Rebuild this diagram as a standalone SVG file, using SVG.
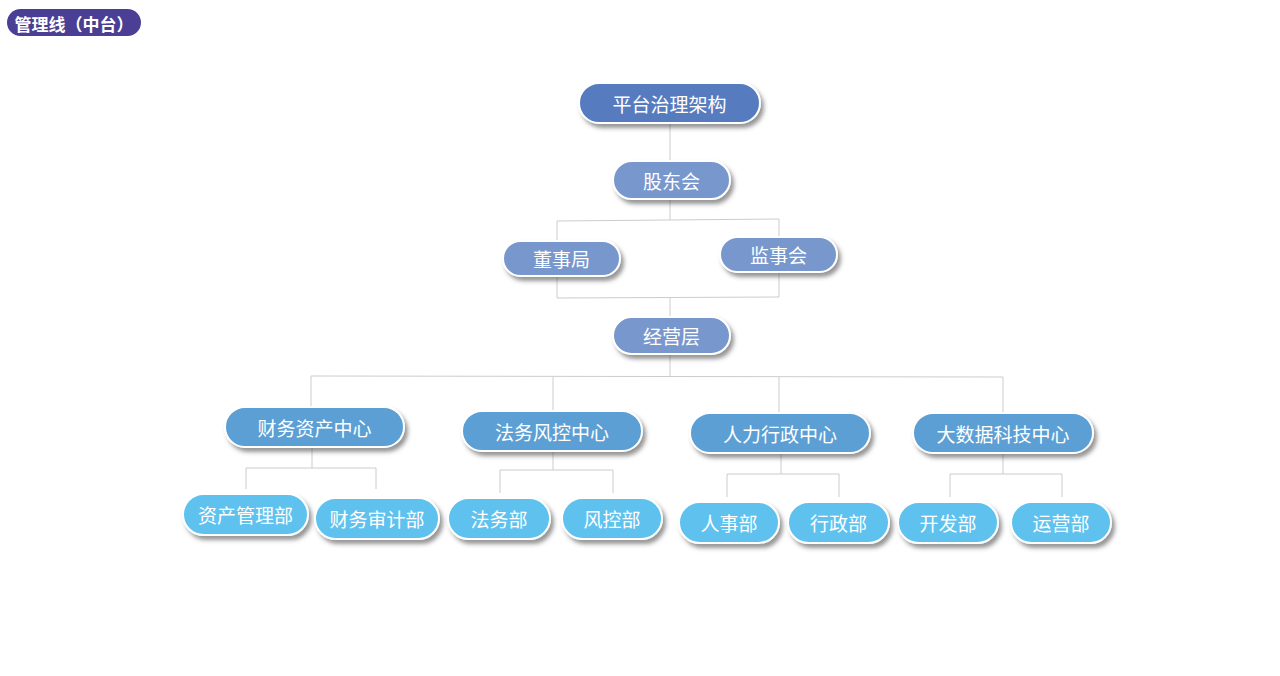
<svg xmlns="http://www.w3.org/2000/svg" width="1280" height="676" viewBox="0 0 1280 676">
<defs>
<filter id="sh" x="-20%" y="-30%" width="140%" height="170%">
<feDropShadow dx="3" dy="4" stdDeviation="2" flood-color="#404040" flood-opacity="0.55"/>
</filter>
<style>
.n rect{stroke:#fff;stroke-width:2;filter:url(#sh)}
.l1 rect{fill:#577cbf}
.l2 rect{fill:#7897cc}
.l3 rect{fill:#5b9fd5}
.l4 rect{fill:#5ec2ee}
.n text{fill:#fff;font-family:"Noto Sans CJK SC","Noto Sans",sans-serif;font-size:19px;text-anchor:middle;dominant-baseline:central}
.c{stroke:#cccccc;stroke-width:1;fill:none}
</style>
</defs>
<rect width="1280" height="676" fill="#fff"/>
<g id="title">
<rect x="7" y="9" width="134" height="27" rx="13.5" fill="#4a3f94"/>
<text x="74" y="23" fill="#fff" font-family="Noto Sans CJK SC,sans-serif" font-weight="bold" font-size="17" text-anchor="middle" dominant-baseline="central">管理线（中台）</text>
</g>
<g id="connectors" class="c">
<path class="c" d="M670 123V161"/>
<path class="c" d="M670 199V220M557 241V221L779 219V237"/>
<path class="c" d="M557 276V298L779 297V272M670 297V317"/>
<path class="c" d="M670 354V376M311 407V376L1003 377V413M553 377V411M779 377V413"/>
<path class="c" d="M312 447V468M246 489V468H376V489"/>
<path class="c" d="M553 451V470M500 493V470H613V493"/>
<path class="c" d="M781 453V474M727 497V474H839V497"/>
<path class="c" d="M1003 453V474M950 497V474H1062V497"/>
</g>
<g id="n_root" class="n l1"><rect x="579" y="83" width="181" height="40" rx="20"/><text x="669.5" y="103">平台治理架构</text></g>
<g id="n_gdh" class="n l2"><rect x="613" y="161" width="117" height="38" rx="19"/><text x="671.5" y="180">股东会</text></g>
<g id="n_dsj" class="n l2"><rect x="503" y="241" width="117" height="35" rx="17.5"/><text x="561.5" y="258.5">董事局</text></g>
<g id="n_jsh" class="n l2"><rect x="720" y="237" width="117" height="35" rx="17.5"/><text x="778.5" y="254.5">监事会</text></g>
<g id="n_jyc" class="n l2"><rect x="613" y="317" width="117" height="37" rx="18.5"/><text x="671.5" y="335.5">经营层</text></g>
<g id="n_cwzc" class="n l3"><rect x="225" y="407" width="179" height="40" rx="20"/><text x="314.5" y="427">财务资产中心</text></g>
<g id="n_fwfk" class="n l3"><rect x="462" y="411" width="180" height="40" rx="20"/><text x="552" y="431">法务风控中心</text></g>
<g id="n_rlxz" class="n l3"><rect x="690" y="413" width="180" height="40" rx="20"/><text x="780" y="433">人力行政中心</text></g>
<g id="n_dsjkj" class="n l3"><rect x="913" y="413" width="180" height="40" rx="20"/><text x="1003" y="433">大数据科技中心</text></g>
<g id="n_zcgl" class="n l4"><rect x="183" y="494" width="125" height="41" rx="20.5"/><text x="245.5" y="514.5">资产管理部</text></g>
<g id="n_cwsj" class="n l4"><rect x="315" y="498" width="124" height="41" rx="20.5"/><text x="377" y="518.5">财务审计部</text></g>
<g id="n_fw" class="n l4"><rect x="448" y="498" width="102" height="41" rx="20.5"/><text x="499" y="518.5">法务部</text></g>
<g id="n_fk" class="n l4"><rect x="562" y="498" width="100" height="41" rx="20.5"/><text x="612" y="518.5">风控部</text></g>
<g id="n_rs" class="n l4"><rect x="679" y="502" width="100" height="41" rx="20.5"/><text x="729" y="522.5">人事部</text></g>
<g id="n_xz" class="n l4"><rect x="788" y="502" width="101" height="41" rx="20.5"/><text x="838.5" y="522.5">行政部</text></g>
<g id="n_kf" class="n l4"><rect x="898" y="502" width="100" height="41" rx="20.5"/><text x="948" y="522.5">开发部</text></g>
<g id="n_yy" class="n l4"><rect x="1011" y="502" width="100" height="41" rx="20.5"/><text x="1061" y="522.5">运营部</text></g>
</svg>
